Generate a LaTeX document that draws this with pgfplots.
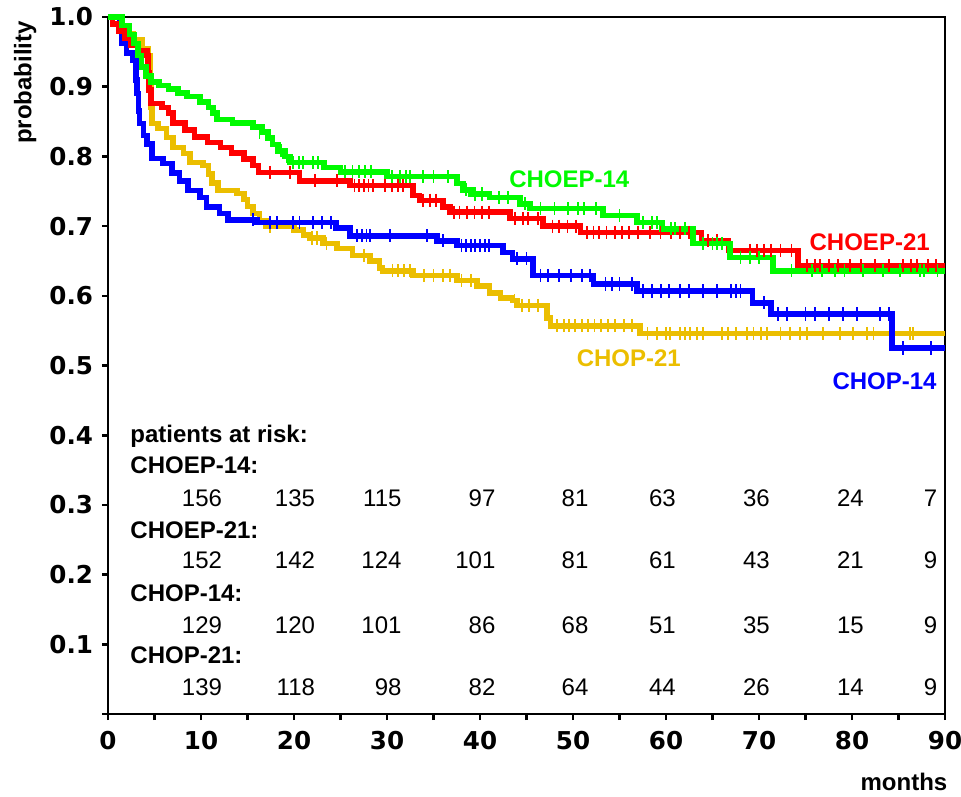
\documentclass[border=0pt]{standalone}
\usepackage{pgfplots}
\pgfplotsset{compat=1.18}
\usepackage{fontspec}
\setmainfont{Liberation Sans}
\newfontfamily\dvs{DejaVu Sans}
\definecolor{cgreen}{RGB}{0,250,0}
\definecolor{cred}{RGB}{255,0,0}
\definecolor{cblue}{RGB}{0,0,255}
\definecolor{cyellow}{RGB}{235,190,0}
\newcommand{\tf}{\dvs\bfseries\fontsize{12.3bp}{12bp}\selectfont}
\newcommand{\lf}{\fontsize{12bp}{14bp}\selectfont}
\tikzset{
  rn/.style={font=\lf, anchor=base east, inner xsep=0pt},
  rl/.style={font=\lf\bfseries, anchor=base west, inner xsep=0pt},
}
\begin{document}
\begin{tikzpicture}
\begin{axis}[
  scale only axis, width=418.5bp, height=348.5bp,
  xmin=0, xmax=90, ymin=0, ymax=1,
  clip=false,
  xtick={0,10,...,90}, minor xtick={5,15,...,85},
  ytick={0,0.1,0.2,0.3,0.4,0.5,0.6,0.7,0.8,0.9,1.0},
  yticklabels={,0.1,0.2,0.3,0.4,0.5,0.6,0.7,0.8,0.9,1.0},
  tick pos=left, tick align=outside,
  major tick length=3bp, minor tick length=3bp,
  every tick/.style={black, line width=1.3bp},
  axis line style={line width=1.2bp},
  /pgf/number format/assume math mode=true,
  xticklabel style={font=\tf, yshift=-2bp},
  yticklabel style={font=\tf, xshift=-1bp},
  xticklabels={0,10,20,30,40,50,60,70,80,90},
  steps/.style={const plot, line width=2.8bp, line join=miter},
  cens/.style={only marks, mark=|, mark size=3.3bp, mark options={line width=0.9bp}},
]
\coordinate (bl) at (rel axis cs:0,0);
\coordinate (tr) at (rel axis cs:1,1);
% CHOP-21
\addplot[steps, color=cyellow] coordinates {(0,1.0)(1.3,0.986)(2.0,0.976)(2.7,0.967)(3.7,0.955)(4.3,0.945)(4.5,0.90)(4.6,0.87)(4.7,0.847)(5.4,0.840)(6.3,0.827)(7.0,0.813)(8.1,0.804)(8.8,0.791)(10.2,0.787)(10.8,0.775)(11.2,0.762)(11.8,0.751)(13.9,0.747)(14.6,0.738)(15.0,0.728)(15.6,0.718)(16.3,0.708)(17.0,0.700)(20.0,0.694)(21.0,0.687)(21.7,0.683)(23.1,0.675)(24.6,0.668)(26.3,0.658)(28.2,0.650)(29.2,0.640)(29.5,0.636)(32.8,0.629)(37.5,0.622)(39.7,0.614)(41.0,0.604)(42.2,0.597)(43.5,0.593)(44.0,0.586)(47.2,0.568)(47.6,0.557)(57.2,0.546)(90,0.546)};
\addplot[cens, color=cyellow] coordinates {(15.6,0.718)(17.4,0.700)(19.9,0.700)(21.9,0.683)(22.5,0.683)(23.5,0.675)(27.5,0.658)(30.6,0.636)(31.2,0.636)(31.8,0.636)(32.5,0.636)(34.0,0.629)(35.0,0.629)(36.0,0.629)(36.8,0.629)(38.0,0.622)(39.0,0.622)(43.7,0.593)(44.5,0.586)(45.3,0.586)(46.2,0.586)(48.3,0.557)(49.0,0.557)(49.6,0.557)(50.2,0.557)(51.0,0.557)(51.6,0.557)(52.3,0.557)(53.0,0.557)(53.8,0.557)(54.5,0.557)(55.5,0.557)(56.3,0.557)(58.0,0.546)(59.0,0.546)(60.0,0.546)(60.4,0.546)(61.5,0.546)(62.0,0.546)(62.6,0.546)(63.3,0.546)(64.0,0.546)(66.0,0.546)(66.7,0.546)(67.5,0.546)(68.7,0.546)(69.4,0.546)(70.2,0.546)(70.9,0.546)(72.3,0.546)(73.3,0.546)(74.4,0.546)(75.2,0.546)(76.9,0.546)(78.7,0.546)(80.1,0.546)(81.6,0.546)(82.3,0.546)(86.2,0.546)(86.6,0.546)};
% CHOP-14
\addplot[steps, color=cblue] coordinates {(0,1.0)(1.3,0.985)(1.5,0.963)(2.0,0.948)(2.7,0.938)(3.0,0.91)(3.1,0.89)(3.3,0.865)(3.4,0.847)(3.8,0.83)(4.2,0.818)(4.7,0.797)(5.9,0.790)(6.9,0.776)(7.7,0.765)(8.6,0.751)(9.9,0.741)(10.6,0.727)(12.0,0.718)(12.9,0.709)(16.0,0.705)(24.5,0.697)(26.0,0.686)(35.4,0.679)(37.5,0.672)(42.5,0.662)(43.5,0.653)(45.7,0.629)(52.2,0.617)(56.9,0.607)(69.3,0.590)(71.3,0.574)(84.3,0.525)(90,0.525)};
\addplot[cens, color=cblue] coordinates {(15.6,0.709)(17.4,0.705)(18.2,0.705)(19.9,0.705)(20.6,0.705)(22.0,0.705)(23.0,0.705)(24.0,0.705)(26.8,0.686)(27.3,0.686)(27.8,0.686)(28.2,0.686)(30.3,0.686)(34.3,0.686)(36.0,0.679)(38.0,0.672)(38.5,0.672)(39.0,0.672)(39.5,0.672)(40.0,0.672)(40.5,0.672)(41.0,0.672)(44.0,0.653)(45.0,0.653)(46.5,0.629)(47.3,0.629)(48.5,0.629)(49.8,0.629)(51.0,0.629)(51.8,0.629)(53.5,0.617)(54.2,0.617)(55.0,0.617)(56.3,0.617)(57.5,0.607)(58.5,0.607)(59.5,0.607)(60.3,0.607)(61.5,0.607)(62.5,0.607)(64.0,0.607)(65.5,0.607)(67.0,0.607)(67.5,0.607)(68.0,0.607)(70.5,0.590)(72.0,0.574)(73.0,0.574)(75.0,0.574)(76.0,0.574)(77.5,0.574)(79.0,0.574)(80.5,0.574)(83.0,0.574)(84.0,0.574)(85.5,0.525)(88.5,0.525)};
% CHOEP-21
\addplot[steps, color=cred] coordinates {(0,1.0)(0.5,0.99)(1.2,0.98)(1.8,0.97)(2.5,0.96)(3.2,0.952)(4.2,0.945)(4.3,0.92)(4.4,0.895)(4.6,0.876)(5.8,0.870)(6.5,0.862)(7.0,0.848)(8.3,0.838)(9.3,0.828)(10.7,0.820)(12.1,0.813)(13.3,0.805)(14.6,0.796)(15.6,0.787)(16.2,0.777)(20.6,0.765)(26.0,0.758)(32.8,0.744)(33.5,0.737)(36.0,0.727)(36.8,0.720)(43.2,0.711)(46.8,0.700)(50.8,0.691)(63.8,0.679)(66.7,0.665)(74.2,0.643)(90,0.643)};
\addplot[cens, color=cred] coordinates {(17.4,0.777)(19.6,0.777)(22.3,0.765)(24.6,0.765)(26.5,0.758)(27.0,0.758)(27.5,0.758)(28.0,0.758)(28.5,0.758)(29.8,0.758)(30.5,0.758)(31.2,0.758)(31.7,0.758)(33.9,0.737)(34.6,0.737)(35.3,0.737)(37.2,0.720)(37.8,0.720)(38.6,0.720)(39.4,0.720)(40.2,0.720)(41.0,0.720)(43.8,0.711)(44.6,0.711)(45.2,0.711)(46.2,0.711)(47.8,0.700)(48.5,0.700)(49.4,0.700)(50.3,0.700)(51.5,0.691)(52.2,0.691)(52.8,0.691)(53.6,0.691)(54.5,0.691)(55.3,0.691)(56.0,0.691)(57.0,0.691)(58.3,0.691)(59.4,0.691)(60.5,0.691)(61.5,0.691)(62.5,0.691)(64.5,0.679)(65.5,0.679)(69.0,0.665)(69.8,0.665)(70.5,0.665)(71.3,0.665)(72.3,0.665)(73.5,0.665)(75.2,0.643)(76.0,0.643)(76.6,0.643)(77.5,0.643)(78.5,0.643)(79.8,0.643)(81.0,0.643)(82.5,0.643)(84.0,0.643)(85.5,0.643)(86.3,0.643)(87.0,0.643)(88.2,0.643)(89.0,0.643)};
% CHOEP-14
\addplot[steps, color=cgreen] coordinates {(0,1.0)(1.5,0.988)(2.3,0.975)(2.8,0.962)(3.2,0.945)(3.6,0.928)(4.1,0.915)(4.6,0.907)(5.5,0.902)(6.5,0.897)(7.5,0.891)(8.5,0.886)(9.9,0.878)(10.8,0.870)(11.3,0.862)(11.7,0.853)(13.4,0.848)(15.6,0.842)(16.6,0.835)(17.2,0.826)(17.7,0.817)(18.3,0.808)(19.0,0.800)(19.6,0.791)(23.2,0.784)(25.0,0.778)(30.0,0.771)(37.5,0.761)(38.2,0.752)(39.0,0.746)(41.0,0.741)(44.3,0.732)(45.4,0.725)(53.2,0.715)(56.9,0.705)(59.6,0.696)(62.9,0.675)(66.9,0.655)(71.5,0.636)(90,0.636)};
\addplot[cens, color=cgreen] coordinates {(16.3,0.835)(18.6,0.808)(19.2,0.800)(19.9,0.791)(20.5,0.791)(21.0,0.791)(22.0,0.791)(22.6,0.791)(25.5,0.778)(26.3,0.778)(27.0,0.778)(27.6,0.778)(28.3,0.778)(30.5,0.771)(31.4,0.771)(32.0,0.771)(32.5,0.771)(33.9,0.771)(35.0,0.771)(36.6,0.771)(38.5,0.752)(39.5,0.746)(40.2,0.746)(42.0,0.741)(43.0,0.741)(44.8,0.732)(46.5,0.725)(48.0,0.725)(49.5,0.725)(50.5,0.725)(51.2,0.725)(52.5,0.725)(55.0,0.715)(57.5,0.705)(58.5,0.705)(59.0,0.705)(60.5,0.696)(61.0,0.696)(62.0,0.696)(64.0,0.675)(65.0,0.675)(65.5,0.675)(66.0,0.675)(68.0,0.655)(69.0,0.655)(70.0,0.655)(73.5,0.636)(75.7,0.636)(76.8,0.636)(78.2,0.636)(79.2,0.636)(81.2,0.636)(83.3,0.636)(85.2,0.636)(87.3,0.636)(87.7,0.636)(89.2,0.636)};
% curve labels
\node[font=\lf\bfseries, text=cgreen] at (axis cs:49.6,0.767) {CHOEP-14};
\node[font=\lf\bfseries, text=cred] at (axis cs:81.9,0.677) {CHOEP-21};
\node[font=\lf\bfseries, text=cyellow] at (axis cs:56.0,0.511) {CHOP-21};
\node[font=\lf\bfseries, text=cblue] at (axis cs:83.5,0.478) {CHOP-14};
% axis titles
\node[font=\lf\bfseries, rotate=90] at (axis cs:-8.9,0.906) {probability};
\node[font=\lf\bfseries, anchor=base east] at (axis cs:91.0,-0.110) {months};
% risk table
\node[rl] at (axis cs:2.37,0.390) {patients at risk:};
\node[rl] at (axis cs:2.37,0.345) {CHOEP-14:};
\node[rl] at (axis cs:2.37,0.252) {CHOEP-21:};
\node[rl] at (axis cs:2.37,0.161) {CHOP-14:};
\node[rl] at (axis cs:2.37,0.072) {CHOP-21:};
% CHOEP-14 row
\node[rn] at (axis cs:12.3,0.298) {156};
\node[rn] at (axis cs:22.3,0.298) {135};
\node[rn] at (axis cs:31.6,0.298) {115};
\node[rn] at (axis cs:41.7,0.298) {97};
\node[rn] at (axis cs:51.7,0.298) {81};
\node[rn] at (axis cs:61.1,0.298) {63};
\node[rn] at (axis cs:71.2,0.298) {36};
\node[rn] at (axis cs:81.3,0.298) {24};
\node[rn] at (axis cs:89.2,0.298) {7};
% CHOEP-21 row
\node[rn] at (axis cs:12.3,0.209) {152};
\node[rn] at (axis cs:22.3,0.209) {142};
\node[rn] at (axis cs:31.6,0.209) {124};
\node[rn] at (axis cs:41.7,0.209) {101};
\node[rn] at (axis cs:51.7,0.209) {81};
\node[rn] at (axis cs:61.1,0.209) {61};
\node[rn] at (axis cs:71.2,0.209) {43};
\node[rn] at (axis cs:81.3,0.209) {21};
\node[rn] at (axis cs:89.2,0.209) {9};
% CHOP-14 row
\node[rn] at (axis cs:12.3,0.115) {129};
\node[rn] at (axis cs:22.3,0.115) {120};
\node[rn] at (axis cs:31.6,0.115) {101};
\node[rn] at (axis cs:41.7,0.115) {86};
\node[rn] at (axis cs:51.7,0.115) {68};
\node[rn] at (axis cs:61.1,0.115) {51};
\node[rn] at (axis cs:71.2,0.115) {35};
\node[rn] at (axis cs:81.3,0.115) {15};
\node[rn] at (axis cs:89.2,0.115) {9};
% CHOP-21 row
\node[rn] at (axis cs:12.3,0.027) {139};
\node[rn] at (axis cs:22.3,0.027) {118};
\node[rn] at (axis cs:31.6,0.027) {98};
\node[rn] at (axis cs:41.7,0.027) {82};
\node[rn] at (axis cs:51.7,0.027) {64};
\node[rn] at (axis cs:61.1,0.027) {44};
\node[rn] at (axis cs:71.2,0.027) {26};
\node[rn] at (axis cs:81.3,0.027) {14};
\node[rn] at (axis cs:89.2,0.027) {9};
\end{axis}
\pgfresetboundingbox
\path[use as bounding box] ([xshift=-54bp,yshift=-41bp]bl) rectangle ([xshift=8bp,yshift=8.5bp]tr);
\end{tikzpicture}
\end{document}
